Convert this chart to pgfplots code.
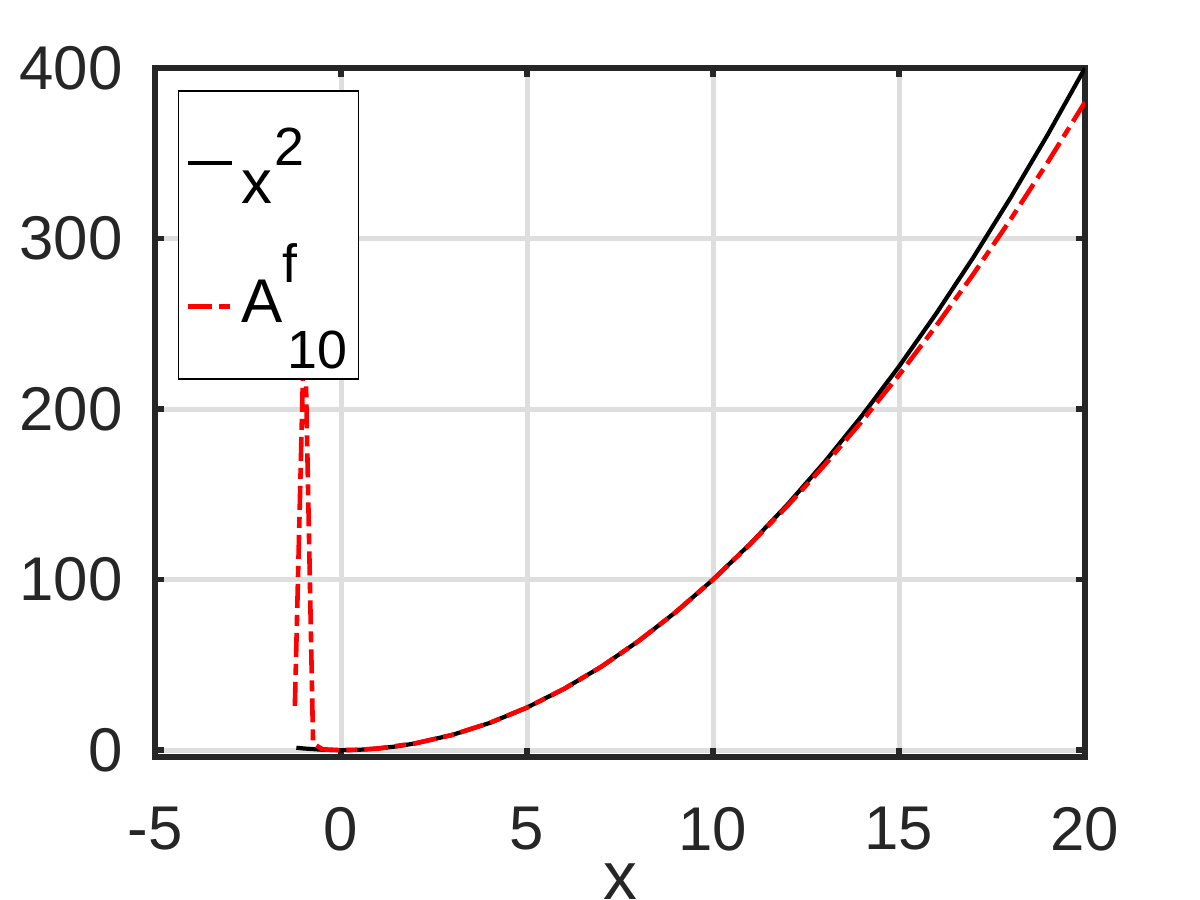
\documentclass[border=0pt]{standalone}
\usepackage{fontspec}
\setmainfont{Liberation Sans}
\usepackage{pgfplots}
\pgfplotsset{compat=1.18}
\definecolor{axisgray}{RGB}{38,38,38}
\definecolor{gridgray}{RGB}{222,222,222}
\newcommand{\tickfont}{\fontsize{31}{31}\selectfont}
\newcommand{\legfont}{\fontsize{31}{31}\selectfont}
\newcommand{\scrfont}{\fontsize{27}{27}\selectfont}
\begin{document}
\begin{tikzpicture}
\begin{axis}[
  at={(0,0)}, anchor=south west,
  scale only axis, width=465bp, height=344.5bp,
  xmin=-5, xmax=20, ymin=-4, ymax=400,
  xtick={-5,0,5,10,15,20}, ytick={0,100,200,300,400},
  grid=major,
  major grid style={color=gridgray, line width=2.5bp},
  axis line style={color=axisgray, line width=2.8bp},
  tick style={color=axisgray, line width=2.8bp},
  tick align=inside, major tick length=4.5bp,
  /pgf/number format/assume math mode=true,
  ticklabel style={font=\tickfont, text=axisgray},
  xticklabel style={anchor=north, inner sep=0pt, yshift=-25bp},
  yticklabel style={anchor=east, inner sep=0pt, xshift=-16bp},
  xlabel={x},
  xlabel style={at={(axis description cs:0.5,0)}, anchor=north, inner sep=0pt, yshift=-53bp, font=\fontsize{34}{34}\selectfont, text=axisgray},
  legend cell align=left,
  legend image code/.code={\draw[#1] (0bp,0bp) -- (22bp,0bp);},
  legend style={at={(axis description cs:0.0247,0.968)}, anchor=north west,
    draw=black, line width=0.75bp, fill=white,
    inner xsep=3.5bp, inner ysep=0pt, row sep=0pt, column sep=3.5bp,
    nodes={inner sep=0pt, anchor=base west, text=black, text height=36bp, text depth=36bp}, font=\legfont},
]
\addplot[black, line width=2.1bp] coordinates {
(-1.2,1.44) (-1,1) (-0.5,0.25) (0,0) (0.5,0.25) (1,1) (1.5,2.25) (2,4) (3,9) (4,16) (5,25) (6,36) (7,49) (8,64) (9,81) (10,100) (11,121) (12,144) (13,169) (14,196) (15,225) (16,256) (17,289) (18,324) (19,361) (20,400)
};
\addlegendentry{\raisebox{-20.5bp}[36bp][36bp]{\makebox[55bp][l]{x\hspace{1bp}\raisebox{19bp}{\scrfont 2}}}}
\addplot[red, line width=2.3bp, dash pattern=on 12bp off 3.5bp on 5.5bp off 3.5bp] coordinates {
(-1.24,26) (-0.98,258) (-0.75,4) (-0.5,0.5) (0,0) (0.5,0.25) (1,1) (2,4) (3,9) (4,16) (5,25) (6,36) (7,49) (8,64) (9,81) (10,100) (11,120.8) (12,143.2) (13,167.2) (14,192.8) (15,220) (16,248.8) (17,279.2) (18,311.2) (19,344.8) (20,380)
};
\addlegendentry{\raisebox{-8bp}[36bp][36bp]{\makebox[55bp][l]{A\rlap{\raisebox{20bp}{\scrfont f}}\hspace{2.5bp}\raisebox{-23bp}{\scrfont 10}}}}
\end{axis}
\pgfresetboundingbox
\path[use as bounding box] (-77.5bp,-71.5bp) rectangle (522.5bp,378.5bp);
\end{tikzpicture}
\end{document}
